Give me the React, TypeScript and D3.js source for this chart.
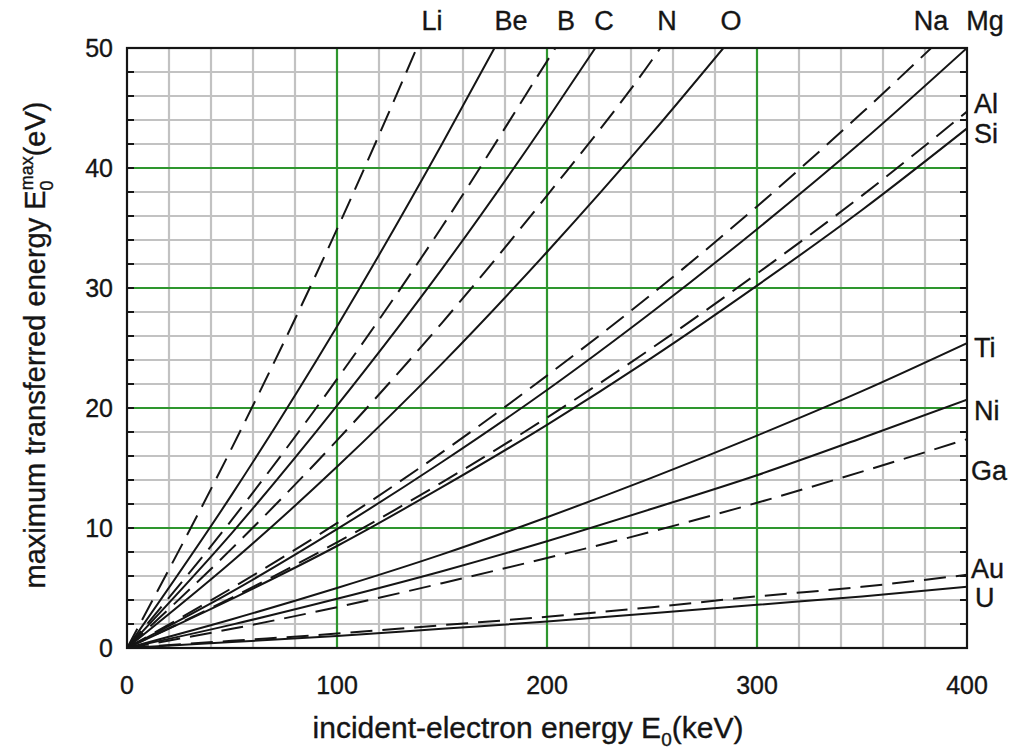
import * as React from 'react';
import * as d3 from 'd3';

// incident energy E0 (keV) vs maximum transferred energy (eV)
const liPts = [[0, 0], [50, 16.7], [100, 34.9], [138, 50]];
const bePts = [[0, 0], [50, 12.8], [100, 26.8], [150, 42.0], [175, 50]];
const bPts = [[0, 0], [50, 10.7], [100, 22.4], [150, 35.1], [200, 48.9], [204, 50]];
const cPts = [[0, 0], [50, 9.6], [100, 20.2], [150, 31.6], [200, 44.0], [223, 50]];
const nPts = [[0, 0], [50, 8.3], [100, 17.3], [150, 27.1], [200, 37.7], [250, 49.0], [254, 50]];
const oPts = [[0, 0], [50, 7.2], [100, 15.1], [150, 23.7], [200, 33.0], [250, 42.9], [284, 50]];
const naPts = [[0, 0], [50, 5.0], [100, 10.4], [150, 16.3], [200, 22.7], [250, 29.5], [300, 36.8], [350, 44.6], [383, 50]];
const mgPts = [[0, 0], [50, 4.7], [100, 9.9], [150, 15.5], [200, 21.5], [250, 28.0], [300, 34.9], [350, 42.2], [400, 50]];
const alPts = [[0, 0], [50, 4.2], [100, 8.8], [150, 13.8], [200, 19.2], [250, 25.0], [300, 31.2], [350, 37.7], [400, 44.7]];
const siPts = [[0, 0], [50, 4.1], [100, 8.5], [150, 13.4], [200, 18.6], [250, 24.2], [300, 30.2], [350, 36.5], [400, 43.3]];
const tiPts = [[0, 0], [50, 2.4], [100, 5.0], [150, 7.8], [200, 10.9], [250, 14.2], [300, 17.7], [350, 21.4], [400, 25.4]];
const niPts = [[0, 0], [50, 1.95], [100, 4.1], [150, 6.4], [200, 8.9], [250, 11.6], [300, 14.4], [350, 17.5], [400, 20.7]];
const gaPts = [[0, 0], [50, 1.6], [100, 3.4], [150, 5.4], [200, 7.5], [250, 9.7], [300, 12.1], [350, 14.7], [400, 17.4]];
const auPts = [[0, 0], [50, 0.6], [100, 1.2], [150, 1.9], [200, 2.6], [250, 3.4], [300, 4.3], [350, 5.1], [400, 6.1]];
const uPts = [[0, 0], [50, 0.5], [100, 1.0], [150, 1.6], [200, 2.2], [250, 2.9], [300, 3.6], [350, 4.3], [400, 5.1]];

const curves = [
  { name: 'Li', pts: liPts, dashed: true },
  { name: 'Be', pts: bePts, dashed: false },
  { name: 'B', pts: bPts, dashed: true },
  { name: 'C', pts: cPts, dashed: false },
  { name: 'N', pts: nPts, dashed: true },
  { name: 'O', pts: oPts, dashed: false },
  { name: 'Na', pts: naPts, dashed: true },
  { name: 'Mg', pts: mgPts, dashed: false },
  { name: 'Al', pts: alPts, dashed: true },
  { name: 'Si', pts: siPts, dashed: false },
  { name: 'Ti', pts: tiPts, dashed: false },
  { name: 'Ni', pts: niPts, dashed: false },
  { name: 'Ga', pts: gaPts, dashed: true },
  { name: 'Au', pts: auPts, dashed: true },
  { name: 'U', pts: uPts, dashed: false },
];

const xTicks = [0, 100, 200, 300, 400];
const yTicks = [0, 10, 20, 30, 40, 50];

// label placement (pixels)
const topLabels = [['Li', 432], ['Be', 511], ['B', 566], ['C', 604], ['N', 667], ['O', 731], ['Na', 931], ['Mg', 985]];
const rightLabels = [['Al', 974, 103], ['Si', 974, 133], ['Ti', 974, 347], ['Ni', 974, 410], ['Ga', 971, 470], ['Au', 971, 568], ['U', 975, 597]];

const FONT = "'Liberation Sans', Arial, Helvetica, sans-serif";
const INK = '#151515';

export default function App() {
  const W = 1010, H = 749;
  const x = d3.scaleLinear().domain([0, 400]).range([127, 967]);
  const y = d3.scaleLinear().domain([0, 50]).range([648, 48]);

  const line = d3.line<number[]>()
    .x(d => x(d[0]))
    .y(d => y(d[1]))
    .curve(d3.curveMonotoneX);

  const minorX = d3.range(0, 401, 20);
  const minorY = d3.range(0, 51, 2);
  const txt = { fill: INK, stroke: INK, strokeWidth: 0.35 };

  return (
    <svg width={W} height={H} style={{ position: 'absolute', left: 0, top: 0, background: '#fff' }}
      fontFamily={FONT}>
      <defs>
        <clipPath id="plot">
          <rect x={x(0)} y={y(50)} width={x(400) - x(0)} height={y(0) - y(50)} />
        </clipPath>
      </defs>

      {/* grey grid */}
      {minorX.filter(v => v % 100 !== 0).map(v => (
        <line key={'gx' + v} x1={x(v)} x2={x(v)} y1={y(0)} y2={y(50)} stroke="#c2c2c2" strokeWidth={2.2} />
      ))}
      {minorY.filter(v => v % 10 !== 0).map(v => (
        <line key={'gy' + v} x1={x(0)} x2={x(400)} y1={y(v)} y2={y(v)} stroke="#c2c2c2" strokeWidth={2.2} />
      ))}
      {/* green major grid */}
      {xTicks.filter(v => v > 0 && v < 400).map(v => (
        <line key={'mx' + v} x1={x(v)} x2={x(v)} y1={y(0)} y2={y(50)} stroke="#2e962e" strokeWidth={2.2} />
      ))}
      {yTicks.filter(v => v > 0 && v < 50).map(v => (
        <line key={'my' + v} x1={x(0)} x2={x(400)} y1={y(v)} y2={y(v)} stroke="#2e962e" strokeWidth={2.2} />
      ))}

      {/* inward ticks left and right */}
      {minorY.map(v => (
        <g key={'t' + v}>
          <line x1={x(0)} x2={x(0) + 7} y1={y(v)} y2={y(v)} stroke={INK} strokeWidth={2} />
          <line x1={x(400)} x2={x(400) - 7} y1={y(v)} y2={y(v)} stroke={INK} strokeWidth={2} />
        </g>
      ))}

      {/* curves */}
      <g clipPath="url(#plot)">
        {curves.map(c => (
          <path key={c.name} d={line(c.pts) || ''} fill="none" stroke={INK} strokeWidth={2}
            strokeDasharray={c.dashed ? '22,10' : undefined} />
        ))}
      </g>

      {/* frame */}
      <rect x={x(0)} y={y(50)} width={x(400) - x(0)} height={y(0) - y(50)} fill="none" stroke={INK} strokeWidth={2.2} />

      {/* tick labels */}
      {xTicks.map(v => (
        <text key={'xl' + v} x={x(v)} y={694} textAnchor="middle" fontSize={25} {...txt}>{v}</text>
      ))}
      {yTicks.map(v => (
        <text key={'yl' + v} x={113} y={y(v) + 9} textAnchor="end" fontSize={25} {...txt}>{v}</text>
      ))}

      {/* element labels */}
      {topLabels.map(([t, px]) => (
        <text key={'top' + t} x={px as number} y={30} textAnchor="middle" fontSize={27} {...txt}>{t}</text>
      ))}
      {rightLabels.map(([t, px, py]) => (
        <text key={'r' + t} x={px as number} y={(py as number) + 10} fontSize={27} {...txt}>{t}</text>
      ))}

      {/* axis titles */}
      <text x={528} y={738} textAnchor="middle" fontSize={30} {...txt}>
        incident-electron energy E<tspan fontSize={19} dy={8}>0</tspan><tspan dy={-8}>(keV)</tspan>
      </text>
      <text transform="translate(45,345) rotate(-90)" textAnchor="middle" fontSize={29} {...txt}>
        maximum transferred energy E<tspan fontSize={18} dy={8}>0</tspan>
        <tspan fontSize={18} dx={-10} dy={-20}>max</tspan><tspan dy={12}>(eV)</tspan>
      </text>
    </svg>
  );
}
